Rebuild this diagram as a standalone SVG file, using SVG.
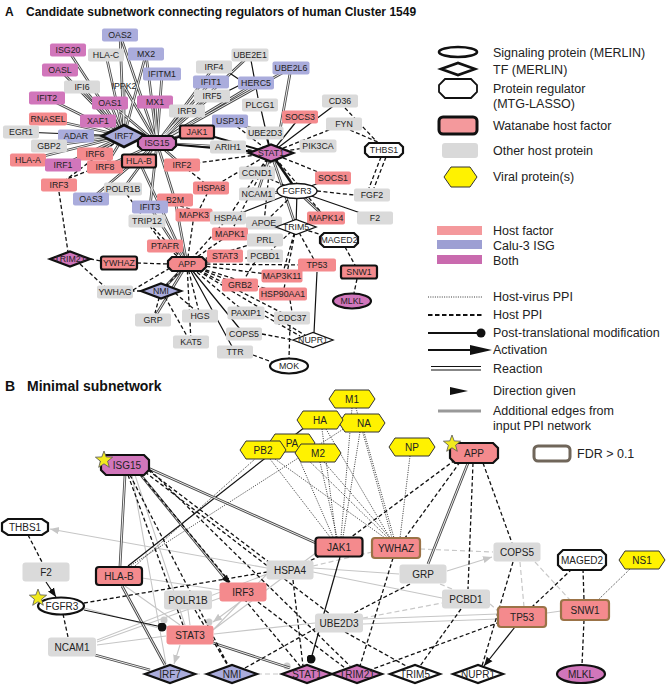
<svg xmlns="http://www.w3.org/2000/svg" xmlns:xlink="http://www.w3.org/1999/xlink" width="669" height="685" viewBox="0 0 669 685">
<style>
text{font-family:"Liberation Sans",Arial,Helvetica,sans-serif;fill:#222}
.ta{font-size:8.8px;text-anchor:middle}
.tb{font-size:10px;text-anchor:middle}
.lg{font-size:12.5px}
.ttl{font-size:12px;font-weight:bold;fill:#111}
.ttlb{font-size:14px;font-weight:bold;fill:#111}
.g{fill:#dadada}.hf{fill:#f48a8d}.isg{fill:#aaacdc}.both{fill:#d176bb}.wh{fill:#fff}
.yl{fill:#fff200;stroke:#333;stroke-width:1}
.k{stroke:#111;stroke-width:2.2}.k1{stroke:#111;stroke-width:1.3}
.fdr{stroke:#9b7347;stroke-width:2.2}
.rx1{fill:none;stroke:#4a4a4a;stroke-width:2.7}
.rx2{fill:none;stroke:#fff;stroke-width:0.9}
.ds{fill:none;stroke:#111;stroke-width:1.3;stroke-dasharray:4 2.5}
.so{fill:none;stroke:#111;stroke-width:1.2}
.sot{fill:none;stroke:#111;stroke-width:2}
.dt{fill:none;stroke:#222;stroke-width:0.9;stroke-dasharray:1 1.3}
.gr{fill:none;stroke:#c6c6c6;stroke-width:1.1}
.grd{fill:none;stroke:#c8c8c8;stroke-width:1.2;stroke-dasharray:5 3}
.star{fill:#f2ea1e;stroke:#555;stroke-width:0.8}
</style>
<defs>
<marker id="arr" viewBox="0 0 10 10" refX="10" refY="5" markerWidth="9" markerHeight="9" markerUnits="userSpaceOnUse" orient="auto"><path d="M0,1L10,5L0,9z" fill="#111"/></marker>
<marker id="garr" viewBox="0 0 10 10" refX="10" refY="5" markerWidth="9" markerHeight="9" markerUnits="userSpaceOnUse" orient="auto"><path d="M0,1L10,5L0,9z" fill="#c6c6c6"/></marker>
<marker id="dot" viewBox="0 0 10 10" refX="5" refY="5" markerWidth="9" markerHeight="9" markerUnits="userSpaceOnUse"><circle cx="5" cy="5" r="5" fill="#111"/></marker>
<polygon id="octA" points="-15,-7 15,-7 19,-3 19,3 15,7 -15,7 -19,3 -19,-3"/>
<polygon id="dmA" points="-20,0 0,-7.5 20,0 0,7.5"/>
<polygon id="octB" points="-19,-10 19,-10 24,-5 24,5 19,10 -19,10 -24,5 -24,-5"/>
<polygon id="dmB" points="-25,0 0,-9 25,0 0,9"/>
<polygon id="hexB" points="-23,0 -17,-9 17,-9 23,0 17,9 -17,9"/>
<polygon id="star" points="0,-9 2.2,-3.1 8.6,-2.8 3.6,1.2 5.3,7.3 0,3.8 -5.3,7.3 -3.6,1.2 -8.6,-2.8 -2.2,-3.1"/>
<path id="rxA" d="M124,136L120,35M124,136L68,50M124,136L106,55M124,136L146,54M124,136L60,70M124,136L82,87M124,136L124,86M124,136L47,98M124,136L110,103M124,136L98,121M124,136L48,119M124,136L49,146M124,136L95,154M124,136L63,165M124,136L105,167M124,136L28,160M124,136L76,136M157,143L120,35M157,143L146,54M157,143L162,74M157,143L124,86M157,143L155,102M157,143L110,103M157,143L187,111M157,143L211,82M157,143L214,67M157,143L212,96M157,143L256,83M157,143L250,55M157,143L291,68M157,143L230,121M157,143L228,147M157,143L139,161M157,143L182,165M157,143L175,200M157,143L150,207M157,143L91,199M157,143L123,189M157,143L105,167M291,68L280,130M139,161L187,264M175,200L187,264M150,207L187,264M271,153L257,194M271,153L297,191M297,191L326,218M297,191L257,194M187,264L153,320M187,264L161,291M271,153L296,227M230,121L265,133"/>
<path id="rxB" d="M125,475L120,566M148,468L316,543M122,586L165,665M95,655L150,670M213,643L290,668M468,463L428,564M140,474L228,582"/>
</defs>

<rect width="669" height="685" fill="#fff"/>

<!-- titles -->
<text class="ttl" x="5" y="16">A</text>
<text class="ttl" x="26" y="16">Candidate subnetwork connecting regulators of human Cluster 1549</text>
<text class="ttlb" x="5" y="391">B</text>
<text class="ttlb" x="27" y="391">Minimal subnetwork</text>

<!-- connectors -->
<g id="connectors">
<g id="edges-A">
<use href="#rxA" class="rx1"/><use href="#rxA" class="rx2"/>
<path class="ds" d="M271,153L228,147M271,153L333,178M271,153L257,173M271,153L211,188M271,153L182,165M271,153L264,223M271,153L326,218M271,153L228,218M271,153L344,124M271,153L318,146M271,153L230,121M271,153L230,234M345,108L378,143M350,130L380,143M381,157L369,188M386,157L374,188M317,191L354,195M297,191L257,173M297,191L264,223M296,227L265,256M296,227L282,276M296,227L317,265M296,227L283,294M296,227L339,240M182,165L211,188M90,170L65,180M59,192L68,252M90,259L101,261M80,264L105,287M137,263L168,264M133,290L170,268M161,291L187,264M141,291L133,291M161,291L155,313M165,297L187,336M175,293L195,310M187,264L230,234M187,264L194,215M187,264L165,246M187,264L228,218M187,264L265,240M187,264L265,256M187,264L240,285M187,264L282,276M187,264L283,294M187,264L246,313M187,264L292,318M187,264L200,316M187,264L191,342M187,264L147,221M187,264L313,340M187,264L317,265M123,189L160,240M290,300L292,312M290,325L289,358M253,355L272,362M262,334L293,340M265,316L300,336M255,262L245,278M345,247L355,265M357,279L354,293M200,208L207,194M180,206L190,209M157,143L197,132M124,136L59,185"/>
<path class="so" d="M21,132L124,136M300,117L271,153M340,101L271,153M271,153L260,105M271,153L265,133M250,55L258,98M240,80L225,70M224,93L240,85M297,191L375,218M297,191L333,178M297,191L296,227M317,272L314,333M187,264L225,256M187,264L244,334M187,264L235,352M297,191L228,218"/>
<path class="sot" d="M124,136L157,143M157,143L197,132M197,132L271,153M157,143L271,153M297,191L271,153"/>
</g>
<g id="edges-B">
<path class="gr" d="M142,578L220,590M267,574L213,630M97,645L166,636M97,642L220,598M97,640L267,574M188,610L190,625M315,623L214,634M132,475L166,664M135,475L185,625M313,572L442,598M313,568L399,574M317,552L213,630M547,613L561,611M84,608L166,630M125,586L180,625M363,619L498,614M363,624L498,619"/>
<path class="gr" marker-end="url(#garr)" d="M267,568L50,529"/>
<path class="gr" marker-end="url(#garr)" d="M240,602L213,622"/>
<path class="gr" marker-end="url(#garr)" d="M180,645L174,664"/>
<path class="gr" marker-end="url(#garr)" d="M447,571L492,557"/>
<path class="grd" d="M420,549L493,552M520,562L524,607M535,562L570,600M490,604L498,611M440,584L452,589M195,674L207,674M257,674L282,674M332,674L338,674M363,618L442,603M313,566L372,552"/>
<circle cx="164" cy="620" r="3.5" fill="#ccc"/><circle cx="209" cy="622" r="3.5" fill="#ccc"/><circle cx="287" cy="666" r="3.5" fill="#ccc"/>
<path class="dt" d="M352,408L341,537M356,408L392,538M322,429L336,537M326,429L390,538M360,432L343,537M364,432L394,538M345,428L130,566M270,459L330,537M275,459L385,538M296,452L333,537M300,452L388,538M320,462L337,537M324,462L390,538M410,456L400,538M135,566L255,459M630,569L598,600"/>
<path class="so" d="M305,427L128,566"/>
<use href="#rxB" class="rx1"/><use href="#rxB" class="rx2"/>
<polygon points="230,584 221.6,579.2 227,574.8" fill="#111"/>
<path class="ds" d="M140,474L300,666M130,475L228,665M128,475L183,625M148,470L270,563M145,472L330,614M150,470L350,666M28,535L42,562M63,614L68,637M84,603L267,572M455,460L350,538M460,462L405,538M473,463L468,589M483,463L512,543M293,580L303,666M305,563L320,556M393,558L360,666M461,609L420,666M513,562L482,666M345,632L408,667M500,622L370,670M410,584L352,614M572,569L532,607M583,569L584,600M584,620L582,665M258,602L345,668M195,610L228,666M245,668L318,627"/>
<path class="so" marker-end="url(#arr)" d="M46,582L56,597"/>
<path class="so" marker-end="url(#arr)" d="M515,627L484,666"/>
<path class="so" marker-end="url(#dot)" d="M84,610L162,627"/>
<path class="so" marker-end="url(#dot)" d="M340,557L311,659"/>
</g>
</g>

<!-- Panel A nodes -->
<g id="nodes-A">
<g id="a-OAS2"><rect class="isg" x="102" y="28.5" width="36" height="13" rx="2"/><text class="ta" x="120" y="38">OAS2</text></g>
<g id="a-ISG20"><rect class="both" x="50" y="43.5" width="36" height="13" rx="2"/><text class="ta" x="68" y="53">ISG20</text></g>
<g id="a-HLA-C"><rect class="g" x="88" y="48.5" width="36" height="13" rx="2"/><text class="ta" x="106" y="58">HLA-C</text></g>
<g id="a-MX2"><rect class="isg" x="128" y="47.5" width="36" height="13" rx="2"/><text class="ta" x="146" y="57">MX2</text></g>
<g id="a-OASL"><rect class="both" x="42" y="63.5" width="36" height="13" rx="2"/><text class="ta" x="60" y="73">OASL</text></g>
<g id="a-IFITM1"><rect class="isg" x="143" y="67.5" width="38" height="13" rx="2"/><text class="ta" x="162" y="77">IFITM1</text></g>
<g id="a-IFI6"><rect class="g" x="64" y="80.5" width="36" height="13" rx="2"/><text class="ta" x="82" y="90">IFI6</text></g>
<g id="a-IPPK2"><text class="ta" x="124" y="89">IPPK2</text></g>
<g id="a-IFIT2"><rect class="both" x="29" y="91.5" width="36" height="13" rx="2"/><text class="ta" x="47" y="101">IFIT2</text></g>
<g id="a-OAS1"><rect class="both" x="92" y="96.5" width="36" height="13" rx="2"/><text class="ta" x="110" y="106">OAS1</text></g>
<g id="a-MX1"><rect class="both" x="137" y="95.5" width="36" height="13" rx="2"/><text class="ta" x="155" y="105">MX1</text></g>
<g id="a-IRF9"><rect class="g" x="169" y="104.5" width="36" height="13" rx="2"/><text class="ta" x="187" y="114">IRF9</text></g>
<g id="a-RNASEL"><rect class="hf" x="29" y="112.5" width="38" height="13" rx="2"/><text class="ta" x="48" y="122">RNASEL</text></g>
<g id="a-XAF1"><rect class="both" x="80" y="114.5" width="36" height="13" rx="2"/><text class="ta" x="98" y="124">XAF1</text></g>
<g id="a-EGR1"><rect class="g" x="3" y="125.5" width="36" height="13" rx="2"/><text class="ta" x="21" y="135">EGR1</text></g>
<g id="a-ADAR"><rect class="isg" x="58" y="129.5" width="36" height="13" rx="2"/><text class="ta" x="76" y="139">ADAR</text></g>
<g id="a-IRF4"><rect class="g" x="196" y="60.5" width="36" height="13" rx="2"/><text class="ta" x="214" y="70">IRF4</text></g>
<g id="a-IFIT1"><rect class="isg" x="193" y="75.5" width="36" height="13" rx="2"/><text class="ta" x="211" y="85">IFIT1</text></g>
<g id="a-IRF5"><rect class="g" x="194" y="89.5" width="36" height="13" rx="2"/><text class="ta" x="212" y="99">IRF5</text></g>
<g id="a-UBE2E1"><rect class="g" x="231.5" y="48.5" width="37" height="13" rx="2"/><text class="ta" x="250" y="58">UBE2E1</text></g>
<g id="a-UBE2L6"><rect class="isg" x="272.5" y="61.5" width="37" height="13" rx="2"/><text class="ta" x="291" y="71">UBE2L6</text></g>
<g id="a-HERC5"><rect class="isg" x="238" y="76.5" width="36" height="13" rx="2"/><text class="ta" x="256" y="86">HERC5</text></g>
<g id="a-PLCG1"><rect class="g" x="242" y="98.5" width="36" height="13" rx="2"/><text class="ta" x="260" y="108">PLCG1</text></g>
<g id="a-CD36"><rect class="g" x="322" y="94.5" width="36" height="13" rx="2"/><text class="ta" x="340" y="104">CD36</text></g>
<g id="a-SOCS3"><rect class="hf" x="282" y="110.5" width="36" height="13" rx="2"/><text class="ta" x="300" y="120">SOCS3</text></g>
<g id="a-FYN"><rect class="g" x="326" y="117.5" width="36" height="13" rx="2"/><text class="ta" x="344" y="127">FYN</text></g>
<g id="a-USP18"><rect class="isg" x="212" y="114.5" width="36" height="13" rx="2"/><text class="ta" x="230" y="124">USP18</text></g>
<g id="a-UBE2D3"><rect class="g" x="246.5" y="126.5" width="37" height="13" rx="2"/><text class="ta" x="265" y="136">UBE2D3</text></g>
<g id="a-ARIH1"><rect class="g" x="210" y="140.5" width="36" height="13" rx="2"/><text class="ta" x="228" y="150">ARIH1</text></g>
<g id="a-PIK3CA"><rect class="g" x="299.5" y="139.5" width="37" height="13" rx="2"/><text class="ta" x="318" y="149">PIK3CA</text></g>
<g id="a-GBP2"><rect class="g" x="31" y="139.5" width="36" height="13" rx="2"/><text class="ta" x="49" y="149">GBP2</text></g>
<g id="a-HLA-A"><rect class="hf" x="10" y="153.5" width="36" height="13" rx="2"/><text class="ta" x="28" y="163">HLA-A</text></g>
<g id="a-IRF6"><rect class="hf" x="77" y="147.5" width="36" height="13" rx="2"/><text class="ta" x="95" y="157">IRF6</text></g>
<g id="a-IRF1"><rect class="both" x="45" y="158.5" width="36" height="13" rx="2"/><text class="ta" x="63" y="168">IRF1</text></g>
<g id="a-IRF8"><rect class="hf" x="87" y="160.5" width="36" height="13" rx="2"/><text class="ta" x="105" y="170">IRF8</text></g>
<g id="a-IRF7"><polygon class="isg" points="102,136 124,125 146,136 124,147" stroke="#111" stroke-width="2.6"/><text class="ta" x="124" y="139">IRF7</text></g>
<g id="a-ISG15"><use href="#octA" transform="translate(157,143)" class="both k"/><text class="ta" x="157" y="146">ISG15</text></g>
<g id="a-JAK1"><rect class="hf k" x="180" y="125.5" width="34" height="13" rx="2"/><text class="ta" x="197" y="135">JAK1</text></g>
<g id="a-HLA-B"><rect class="hf k" x="122" y="154.5" width="34" height="13" rx="2"/><text class="ta" x="139" y="164">HLA-B</text></g>
<g id="a-STAT1"><polygon class="both" points="249,153 271,144.5 293,153 271,161.5" stroke="#111" stroke-width="2.4"/><text class="ta" x="271" y="156">STAT1</text></g>
<g id="a-THBS1"><use href="#octA" transform="translate(384,150)" class="wh k"/><text class="ta" x="384" y="153">THBS1</text></g>
<g id="a-IRF2"><rect class="hf" x="164" y="158.5" width="36" height="13" rx="2"/><text class="ta" x="182" y="168">IRF2</text></g>
<g id="a-CCND1"><rect class="g" x="239" y="166.5" width="36" height="13" rx="2"/><text class="ta" x="257" y="176">CCND1</text></g>
<g id="a-SOCS1"><rect class="hf" x="315" y="171.5" width="36" height="13" rx="2"/><text class="ta" x="333" y="181">SOCS1</text></g>
<g id="a-FGFR3"><ellipse class="wh k1" cx="297" cy="191" rx="20" ry="7.5"/><text class="ta" x="297" y="194">FGFR3</text></g>
<g id="a-FGF2"><rect class="g" x="354" y="188.5" width="36" height="13" rx="2"/><text class="ta" x="372" y="198">FGF2</text></g>
<g id="a-NCAM1"><rect class="g" x="239" y="187.5" width="36" height="13" rx="2"/><text class="ta" x="257" y="197">NCAM1</text></g>
<g id="a-HSPA8"><rect class="hf" x="193" y="181.5" width="36" height="13" rx="2"/><text class="ta" x="211" y="191">HSPA8</text></g>
<g id="a-IRF3"><rect class="hf" x="41" y="178.5" width="36" height="13" rx="2"/><text class="ta" x="59" y="188">IRF3</text></g>
<g id="a-POLR1B"><rect class="g" x="104" y="182.5" width="38" height="13" rx="2"/><text class="ta" x="123" y="192">POLR1B</text></g>
<g id="a-OAS3"><rect class="isg" x="73" y="192.5" width="36" height="13" rx="2"/><text class="ta" x="91" y="202">OAS3</text></g>
<g id="a-B2M"><rect class="hf" x="157" y="193.5" width="36" height="13" rx="2"/><text class="ta" x="175" y="203">B2M</text></g>
<g id="a-IFIT3"><rect class="isg" x="132" y="200.5" width="36" height="13" rx="2"/><text class="ta" x="150" y="210">IFIT3</text></g>
<g id="a-MAPK3"><rect class="hf" x="175.5" y="208.5" width="37" height="13" rx="2"/><text class="ta" x="194" y="218">MAPK3</text></g>
<g id="a-HSPA4"><rect class="g" x="210" y="211.5" width="36" height="13" rx="2"/><text class="ta" x="228" y="221">HSPA4</text></g>
<g id="a-APOE"><rect class="g" x="246" y="216.5" width="36" height="13" rx="2"/><text class="ta" x="264" y="226">APOE</text></g>
<g id="a-MAPK14"><rect class="hf" x="307" y="211.5" width="38" height="13" rx="2"/><text class="ta" x="326" y="221">MAPK14</text></g>
<g id="a-F2"><rect class="g" x="357" y="211.5" width="36" height="13" rx="2"/><text class="ta" x="375" y="221">F2</text></g>
<g id="a-TRIM5"><use href="#dmA" transform="translate(296,227)" class="wh k1"/><text class="ta" x="296" y="230">TRIM5</text></g>
<g id="a-TRIP12"><rect class="g" x="128.5" y="214.5" width="37" height="13" rx="2"/><text class="ta" x="147" y="224">TRIP12</text></g>
<g id="a-MAPK1"><rect class="hf" x="212" y="227.5" width="36" height="13" rx="2"/><text class="ta" x="230" y="237">MAPK1</text></g>
<g id="a-PRL"><rect class="g" x="247" y="233.5" width="36" height="13" rx="2"/><text class="ta" x="265" y="243">PRL</text></g>
<g id="a-MAGED2"><use href="#octA" transform="translate(339,240)" class="wh k"/><text class="ta" x="339" y="243">MAGED2</text></g>
<g id="a-PTAFR"><rect class="hf" x="147" y="239.5" width="36" height="13" rx="2"/><text class="ta" x="165" y="249">PTAFR</text></g>
<g id="a-STAT3"><rect class="hf" x="207" y="249.5" width="36" height="13" rx="2"/><text class="ta" x="225" y="259">STAT3</text></g>
<g id="a-PCBD1"><rect class="g" x="247" y="249.5" width="36" height="13" rx="2"/><text class="ta" x="265" y="259">PCBD1</text></g>
<g id="a-TP53"><rect class="hf" x="298" y="258.5" width="38" height="13" rx="2"/><text class="ta" x="317" y="268">TP53</text></g>
<g id="a-SNW1"><rect class="hf k" x="341" y="265.5" width="36" height="13" rx="2"/><text class="ta" x="359" y="275">SNW1</text></g>
<g id="a-TRIM21"><use href="#dmA" transform="translate(70,259)" class="both k"/><text class="ta" x="70" y="262">TRIM21</text></g>
<g id="a-YWHAZ"><rect class="hf k" x="101" y="256.5" width="36" height="13" rx="2"/><text class="ta" x="119" y="266">YWHAZ</text></g>
<g id="a-APP"><use href="#octA" transform="translate(187,264)" class="hf k"/><text class="ta" x="187" y="267">APP</text></g>
<g id="a-MAP3K11"><rect class="hf" x="261.5" y="269.5" width="41" height="13" rx="2"/><text class="ta" x="282" y="279">MAP3K11</text></g>
<g id="a-GRB2"><rect class="hf" x="222" y="278.5" width="36" height="13" rx="2"/><text class="ta" x="240" y="288">GRB2</text></g>
<g id="a-HSP90AA1"><rect class="hf" x="259" y="287.5" width="48" height="13" rx="2"/><text class="ta" x="283" y="297">HSP90AA1</text></g>
<g id="a-MLKL"><ellipse class="both k" cx="352" cy="301" rx="19" ry="7.5"/><text class="ta" x="352" y="304">MLKL</text></g>
<g id="a-YWHAG"><rect class="g" x="97" y="285.5" width="36" height="13" rx="2"/><text class="ta" x="115" y="295">YWHAG</text></g>
<g id="a-NMI"><use href="#dmA" transform="translate(161,291)" class="isg k"/><text class="ta" x="161" y="294">NMI</text></g>
<g id="a-PAXIP1"><rect class="g" x="227.5" y="306.5" width="37" height="13" rx="2"/><text class="ta" x="246" y="316">PAXIP1</text></g>
<g id="a-CDC37"><rect class="g" x="274" y="311.5" width="36" height="13" rx="2"/><text class="ta" x="292" y="321">CDC37</text></g>
<g id="a-GRP"><rect class="g" x="135" y="313.5" width="36" height="13" rx="2"/><text class="ta" x="153" y="323">GRP</text></g>
<g id="a-HGS"><rect class="g" x="182" y="309.5" width="36" height="13" rx="2"/><text class="ta" x="200" y="319">HGS</text></g>
<g id="a-COPS5"><rect class="g" x="226" y="327.5" width="36" height="13" rx="2"/><text class="ta" x="244" y="337">COPS5</text></g>
<g id="a-KAT5"><rect class="g" x="173" y="335.5" width="36" height="13" rx="2"/><text class="ta" x="191" y="345">KAT5</text></g>
<g id="a-NUPR1"><use href="#dmA" transform="translate(313,340)" class="wh k1"/><text class="ta" x="313" y="343">NUPR1</text></g>
<g id="a-TTR"><rect class="g" x="217" y="345.5" width="36" height="13" rx="2"/><text class="ta" x="235" y="355">TTR</text></g>
<g id="a-MOK"><ellipse class="wh k" cx="289" cy="366" rx="19" ry="7.5"/><text class="ta" x="289" y="369">MOK</text></g>
</g>

<!-- Panel B nodes -->
<g id="nodes-B">
<g id="b-M1"><use href="#hexB" transform="translate(352,399)" class="yl"/><text class="tb" x="352" y="403">M1</text></g>
<g id="b-NA"><use href="#hexB" transform="translate(362,423)" class="yl"/><text class="tb" x="364" y="427">NA</text></g>
<g id="b-HA"><use href="#hexB" transform="translate(320,420)" class="yl"/><text class="tb" x="320" y="424">HA</text></g>
<g id="b-PA"><use href="#hexB" transform="translate(292,443)" class="yl"/><text class="tb" x="292" y="447">PA</text></g>
<g id="b-PB2"><use href="#hexB" transform="translate(263,450)" class="yl"/><text class="tb" x="263" y="454">PB2</text></g>
<g id="b-M2"><use href="#hexB" transform="translate(318,453)" class="yl"/><text class="tb" x="318" y="457">M2</text></g>
<g id="b-NP"><use href="#hexB" transform="translate(412,447)" class="yl"/><text class="tb" x="412" y="451">NP</text></g>
<g id="b-APP"><use href="#octB" transform="translate(474,453)" class="hf k"/><text class="tb" x="474" y="457">APP</text><use href="#star" transform="translate(452,444)" class="star"/></g>
<g id="b-ISG15"><use href="#octB" transform="translate(125,465)" class="both k"/><text class="tb" x="127" y="469">ISG15</text><use href="#star" transform="translate(104,460)" class="star"/></g>
<g id="b-THBS1"><polygon points="8,519 42,519 48,523 48,531 42,535 8,535 2,531 2,523" class="wh k"/><text class="tb" x="25" y="531">THBS1</text></g>
<g id="b-JAK1"><rect class="hf k" x="315.5" y="537.5" width="47" height="19" rx="3"/><text class="tb" x="339" y="551">JAK1</text></g>
<g id="b-YWHAZ"><rect class="hf fdr" x="372" y="538" width="48" height="20" rx="3"/><text class="tb" x="396" y="552">YWHAZ</text></g>
<g id="b-COPS5"><rect class="g" x="493.5" y="542.5" width="47" height="19" rx="3"/><text class="tb" x="517" y="556">COPS5</text></g>
<g id="b-HSPA4"><rect class="g" x="266.5" y="560.5" width="47" height="19" rx="3"/><text class="tb" x="290" y="574">HSPA4</text></g>
<g id="b-GRP"><rect class="g" x="399.5" y="564.5" width="47" height="19" rx="3"/><text class="tb" x="423" y="578">GRP</text></g>
<g id="b-MAGED2"><use href="#octB" transform="translate(582,560)" class="wh k"/><text class="tb" x="582" y="564">MAGED2</text></g>
<g id="b-NS1"><use href="#hexB" transform="translate(642,560)" class="yl"/><text class="tb" x="642" y="564">NS1</text></g>
<g id="b-F2"><rect class="g" x="22.5" y="562.5" width="47" height="19" rx="3"/><text class="tb" x="46" y="576">F2</text></g>
<g id="b-HLA-B"><rect class="hf k" x="96" y="567" width="46" height="18" rx="3"/><text class="tb" x="119" y="580">HLA-B</text></g>
<g id="b-PCBD1"><rect class="g" x="442" y="589.5" width="48" height="19" rx="3"/><text class="tb" x="466" y="603">PCBD1</text></g>
<g id="b-IRF3"><rect class="hf" x="219.5" y="582.5" width="47" height="19" rx="3"/><text class="tb" x="243" y="596">IRF3</text></g>
<g id="b-POLR1B"><rect class="g" x="164" y="590.5" width="48" height="19" rx="3"/><text class="tb" x="188" y="604">POLR1B</text></g>
<g id="b-FGFR3"><ellipse class="wh k" cx="61" cy="606" rx="23" ry="8.5"/><text class="tb" x="62" y="610">FGFR3</text><use href="#star" transform="translate(38,598)" class="star"/></g>
<g id="b-SNW1"><rect class="hf fdr" x="561" y="600" width="48" height="20" rx="3"/><text class="tb" x="585" y="614">SNW1</text></g>
<g id="b-TP53"><rect class="hf fdr" x="498" y="607" width="48" height="20" rx="3"/><text class="tb" x="522" y="621">TP53</text></g>
<g id="b-UBE2D3"><rect class="g" x="315" y="613.5" width="48" height="19" rx="3"/><text class="tb" x="339" y="627">UBE2D3</text></g>
<g id="b-STAT3"><rect class="hf" x="166.5" y="625.5" width="47" height="19" rx="3"/><text class="tb" x="190" y="639">STAT3</text></g>
<g id="b-NCAM1"><rect class="g" x="48" y="637.5" width="48" height="19" rx="3"/><text class="tb" x="72" y="651">NCAM1</text></g>
<g id="b-IRF7"><use href="#dmB" transform="translate(170,674)" class="isg k"/><text class="tb" x="170" y="678">IRF7</text></g>
<g id="b-NMI"><use href="#dmB" transform="translate(232,674)" class="isg k"/><text class="tb" x="232" y="678">NMI</text></g>
<g id="b-STAT1"><use href="#dmB" transform="translate(307,674)" class="both k"/><text class="tb" x="307" y="678">STAT1</text></g>
<g id="b-TRIM21"><use href="#dmB" transform="translate(357,674)" class="both k"/><text class="tb" x="357" y="678">TRIM21</text></g>
<g id="b-TRIM5"><use href="#dmB" transform="translate(415,674)" class="wh k"/><text class="tb" x="415" y="678">TRIM5</text></g>
<g id="b-NUPR1"><use href="#dmB" transform="translate(478,674)" class="wh k"/><text class="tb" x="478" y="678">NUPR1</text></g>
<g id="b-MLKL"><ellipse class="both k" cx="581" cy="674" rx="24" ry="9"/><text class="tb" x="581" y="678">MLKL</text></g>
</g>

<!-- Legend -->
<g id="legend">
<ellipse cx="458" cy="52" rx="19" ry="5" fill="#fff" stroke="#111" stroke-width="2.6"/>
<text class="lg" x="493" y="57">Signaling protein (MERLIN)</text>
<polygon points="441,69 458,63 475,69 458,75" fill="#fff" stroke="#111" stroke-width="2.6"/>
<text class="lg" x="493" y="74">TF (MERLIN)</text>
<polygon points="445,79 471,79 477,85 477,92 471,98 445,98 439,92 439,85" fill="#fff" stroke="#111" stroke-width="1.8"/>
<text class="lg" x="493" y="93">Protein regulator</text>
<text class="lg" x="493" y="108">(MTG-LASSO)</text>
<rect x="439" y="117" width="38" height="17" rx="4" fill="#f4999c" stroke="#111" stroke-width="3"/>
<text class="lg" x="493" y="130">Watanabe host factor</text>
<rect x="442" y="143" width="36" height="15" rx="3" fill="#d9d9d9"/>
<text class="lg" x="493" y="155">Other host protein</text>
<polygon points="444,177 451,167 470,167 477,177 470,187 451,187" fill="#fff200" stroke="#333" stroke-width="1"/>
<text class="lg" x="493" y="181">Viral protein(s)</text>
<rect x="437" y="226" width="45" height="9" fill="#f4999c"/>
<text class="lg" x="493" y="235">Host factor</text>
<rect x="437" y="240" width="45" height="9" fill="#9d9fd3"/>
<text class="lg" x="493" y="250">Calu-3 ISG</text>
<rect x="437" y="255" width="45" height="9" fill="#c96aae"/>
<text class="lg" x="493" y="265">Both</text>
<path class="dt" d="M428,297L483,297"/>
<text class="lg" x="493" y="301">Host-virus PPI</text>
<path d="M428,315L483,315" fill="none" stroke="#111" stroke-width="2" stroke-dasharray="4.5 2.5"/>
<text class="lg" x="493" y="319">Host PPI</text>
<path d="M428,333L478,333" fill="none" stroke="#111" stroke-width="2"/>
<circle cx="481" cy="333" r="4.5" fill="#111"/>
<text class="lg" x="493" y="337">Post-translational modification</text>
<path d="M428,350L472,350" fill="none" stroke="#111" stroke-width="2"/>
<polygon points="470,345 492,350 470,355" fill="#111"/>
<text class="lg" x="493" y="354">Activation</text>
<path d="M431,366.5L481,366.5M431,370L481,370" fill="none" stroke="#111" stroke-width="1.2"/>
<text class="lg" x="493" y="373">Reaction</text>
<polygon points="450,387 468,391 450,395" fill="#111"/>
<text class="lg" x="493" y="395">Direction given</text>
<path d="M438,411L481,411" fill="none" stroke="#999" stroke-width="3"/>
<text class="lg" x="493" y="415">Additional edges from</text>
<text class="lg" x="493" y="430">input PPI network</text>
<rect x="534" y="446" width="36" height="15" rx="4" fill="#fff" stroke="#70665a" stroke-width="3"/>
<text class="lg" x="577" y="458">FDR &gt; 0.1</text>
</g>
</svg>
